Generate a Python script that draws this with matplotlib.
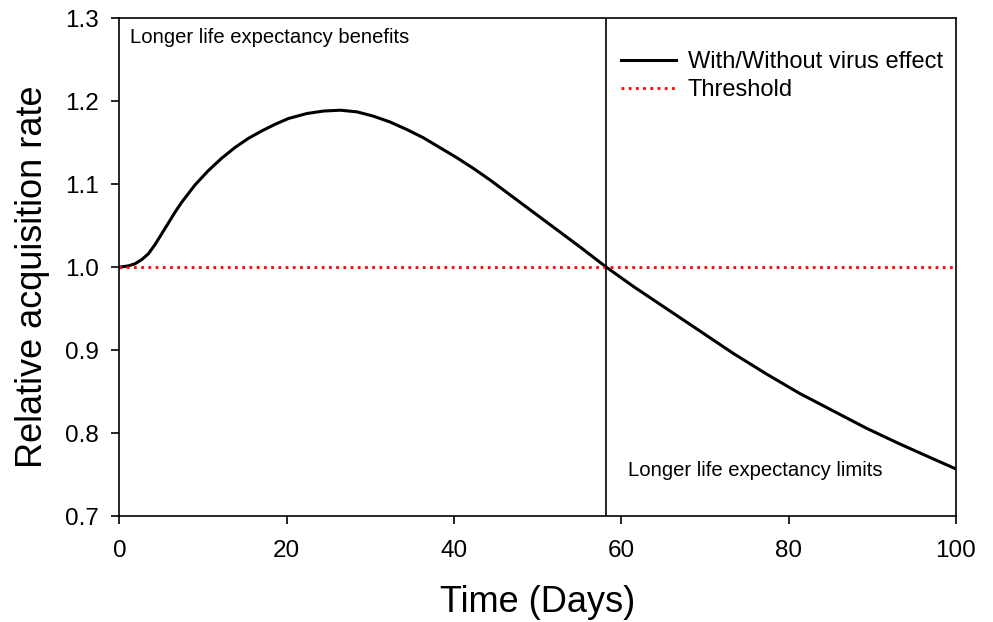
""" Relative acquisition rate over time, with/without virus effect """

import matplotlib.pyplot as plt

# values
days = [0, 1.05, 1.85, 2.65, 3.45, 4.24, 5.04, 5.84, 6.63, 7.43, 9.03, 10.6,
        12.2, 13.8, 15.4, 17.0, 18.6, 20.2, 22.4, 24.4, 26.4, 28.4, 30.3,
        32.3, 34.3, 36.3, 38.3, 40.3, 42.3, 44.3, 47.1, 51.1, 55.1, 58.2,
        61.4, 65.4, 69.4, 73.4, 77.4, 81.3, 85.3, 89.3, 93.3, 97.3, 100]
rate = [1.0, 1.0015, 1.004, 1.009, 1.016, 1.027, 1.040, 1.053, 1.066, 1.078,
        1.099, 1.116, 1.131, 1.144, 1.155, 1.164, 1.172, 1.179, 1.185, 1.188,
        1.189, 1.187, 1.182, 1.175, 1.166, 1.156, 1.144, 1.132, 1.119, 1.105,
        1.084, 1.054, 1.024, 1.0, 0.977, 0.950, 0.923, 0.896, 0.871, 0.848,
        0.827, 0.806, 0.787, 0.769, 0.757]
threshold = 1.0
crossover = 58.2

xticks = [0, 20, 40, 60, 80, 100]
yticks = [0.7, 0.8, 0.9, 1.0, 1.1, 1.2, 1.3]


def main():
    plt.rcParams['font.family'] = ['Liberation Sans', 'DejaVu Sans']
    fig = plt.figure(figsize=(9.93, 6.22), dpi=100)
    ax = fig.add_axes([0.1203, 0.170, 0.8424, 0.801])

    ax.plot(days, rate, color='black', lw=2.2, label='With/Without virus effect')
    ax.plot([0, 100], [threshold, threshold], color='red', lw=2.0,
            linestyle=(0, (1, 1.6)), label='Threshold')
    ax.axvline(crossover, color='black', lw=1.2)

    ax.set_xlim(0, 100)
    ax.set_ylim(0.7, 1.3)
    ax.set_xticks(xticks)
    ax.set_yticks(yticks)
    ax.set_yticklabels(['%.1f' % v for v in yticks])
    ax.set_xticklabels([str(v) for v in xticks])
    ax.tick_params(direction='out', length=6, width=1.2, colors='black',
                   labelsize=17.5)
    ax.tick_params(axis='x', pad=11)
    ax.tick_params(axis='y', pad=9)
    for s in ax.spines.values():
        s.set_linewidth(1.2)

    ax.set_xlabel('Time (Days)', fontsize=26, labelpad=17)
    ax.set_ylabel('Relative acquisition rate', fontsize=26)
    ax.yaxis.set_label_coords(-0.083, 0.48)

    ax.text(1.3, 1.277, 'Longer life expectancy benefits', fontsize=14.6,
            va='center', ha='left')
    ax.text(60.8, 0.755, 'Longer life expectancy limits', fontsize=14.6,
            va='center', ha='left')

    ax.legend(loc='upper right', bbox_to_anchor=(0.9845, 0.934), frameon=False,
              fontsize=17, handlelength=2.33, handletextpad=0.5,
              labelspacing=0.25, borderaxespad=0, borderpad=0)

    fig.savefig('out.png', dpi=100)


if __name__ == '__main__':
    main()
